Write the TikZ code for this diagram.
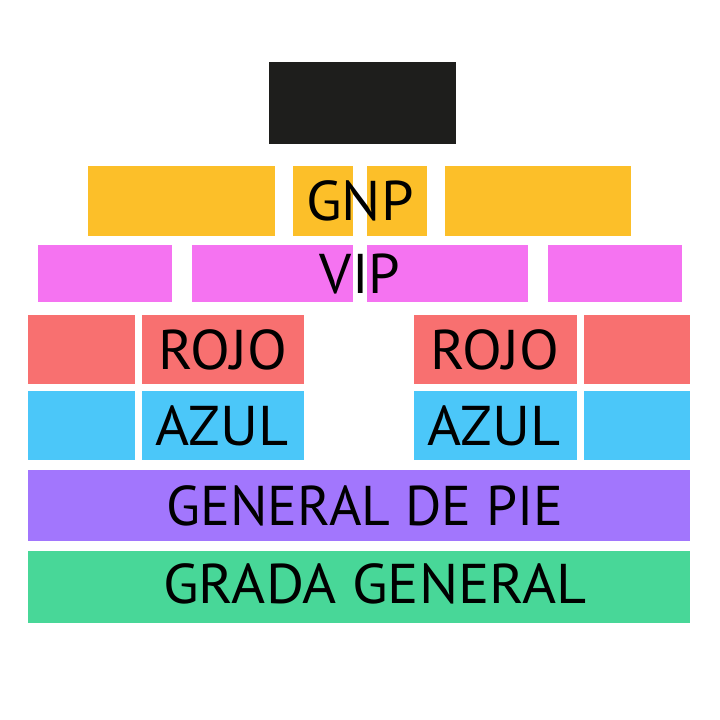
\documentclass[tikz,border=0pt]{standalone}
\usepackage{fontspec}
\setmainfont{PT Sans}
\definecolor{stage}{HTML}{1E1E1C}
\definecolor{gnp}{HTML}{FCBF29}
\definecolor{vip}{HTML}{F573F1}
\definecolor{rojo}{HTML}{F87070}
\definecolor{azul}{HTML}{4BC7F9}
\definecolor{gpie}{HTML}{A276FD}
\definecolor{grada}{HTML}{48D798}
\begin{document}
\begin{tikzpicture}[x=1pt,y=-1pt,
  zone/.style={draw=none,inner sep=0pt,outer sep=0pt,anchor=north west},
  lbl/.style={inner sep=0pt,font=\fontsize{56}{56}\selectfont,text=black,xscale=1.04}]
\useasboundingbox[fill=white] (0,0) rectangle (720,720);
% stage
\node[zone,fill=stage,minimum width=187pt,minimum height=82pt] (stage) at (269,62) {};
% GNP row
\node[zone,fill=gnp,minimum width=187pt,minimum height=70pt] (gnp1) at (88,166) {};
\node[zone,fill=gnp,minimum width=60pt,minimum height=70pt] (gnp2) at (293,166) {};
\node[zone,fill=gnp,minimum width=60pt,minimum height=70pt] (gnp3) at (367,166) {};
\node[zone,fill=gnp,minimum width=186pt,minimum height=70pt] (gnp4) at (445,166) {};
% VIP row
\node[zone,fill=vip,minimum width=134pt,minimum height=57pt] (vip1) at (38,245) {};
\node[zone,fill=vip,minimum width=161pt,minimum height=57pt] (vip2) at (192,245) {};
\node[zone,fill=vip,minimum width=161pt,minimum height=57pt] (vip3) at (367,245) {};
\node[zone,fill=vip,minimum width=134pt,minimum height=57pt] (vip4) at (548,245) {};
% ROJO row
\node[zone,fill=rojo,minimum width=107pt,minimum height=69pt] (rojo1) at (28,315) {};
\node[zone,fill=rojo,minimum width=162pt,minimum height=69pt] (rojo2) at (142,315) {};
\node[zone,fill=rojo,minimum width=163pt,minimum height=69pt] (rojo3) at (414,315) {};
\node[zone,fill=rojo,minimum width=106pt,minimum height=69pt] (rojo4) at (584,315) {};
% AZUL row
\node[zone,fill=azul,minimum width=107pt,minimum height=69pt] (azul1) at (28,391) {};
\node[zone,fill=azul,minimum width=162pt,minimum height=69pt] (azul2) at (142,391) {};
\node[zone,fill=azul,minimum width=163pt,minimum height=69pt] (azul3) at (414,391) {};
\node[zone,fill=azul,minimum width=106pt,minimum height=69pt] (azul4) at (584,391) {};
% General de pie
\node[zone,fill=gpie,minimum width=662pt,minimum height=71pt] (gpie) at (28,470) {};
% Grada general
\node[zone,fill=grada,minimum width=662pt,minimum height=72pt] (grada) at (28,551) {};
% labels
\node[lbl] (tgnp) at (360,201) {GNP};
\node[lbl,xscale=0.97] (tvip) at (360,274) {VIP};
\node[lbl] (trojo1) at (223,350) {ROJO};
\node[lbl] (trojo2) at (495,350) {ROJO};
\node[lbl] (tazul1) at (222,426) {AZUL};
\node[lbl] (tazul2) at (494,426) {AZUL};
\node[lbl,xscale=0.955] (tgpie) at (365,506) {GENERAL DE PIE};
\node[lbl] (tgrada) at (375,584) {GRADA GENERAL};
\end{tikzpicture}
\end{document}
